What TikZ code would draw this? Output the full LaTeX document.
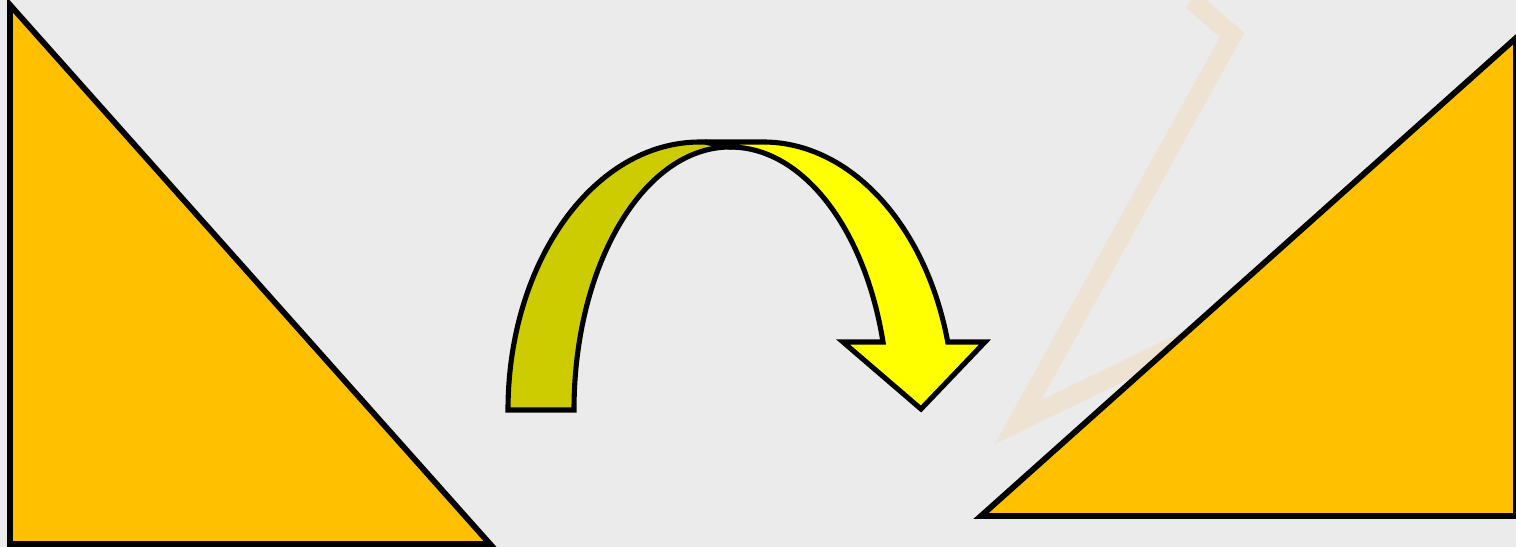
\documentclass[tikz,border=0pt]{standalone}
\usetikzlibrary{positioning}

\definecolor{slidebg}{RGB}{235,235,235}
\definecolor{triorange}{RGB}{255,192,0}
\definecolor{backband}{RGB}{204,204,0}
\definecolor{frontband}{RGB}{255,255,0}
\definecolor{markfaint}{RGB}{238,227,210}

\tikzset{
  trishape/.style={draw=black, line width=3.3pt, fill=triorange, line join=miter},
  bandback/.style={draw=black, line width=2.9pt, fill=backband, line join=miter},
  bandfront/.style={draw=black, line width=2.9pt, fill=frontband, line join=miter},
  watermark/.style={draw=markfaint, line width=11pt}
}

\begin{document}
\begin{tikzpicture}[x=0.02cm, y=0.02cm]
    \fill[slidebg] (0,0) rectangle (1516,547);
    \useasboundingbox (0,0) rectangle (1516,547);

    % faint background mark
    \draw[watermark] (1192,547) -- (1232,512) -- (1018,125) -- (1250,237);

    % left triangle
    \draw[trishape] (10,542) -- (10,3) -- (490,3) -- cycle;

    % curved arrow, back band
    \draw[bandback] (508,137) arc[start angle=180, end angle=90, x radius=192, y radius=268]
        -- (705,405) -- (730,400)
        arc[start angle=90, end angle=180, x radius=156, y radius=263] -- cycle;

    % curved arrow, front band with head
    \draw[bandfront] (705,405) -- (763,405)
        arc[start angle=90, end angle=14.7, x radius=191, y radius=268]
        -- (985,205) -- (921,138) -- (843,205) -- (883,205)
        arc[start angle=15, end angle=90, x radius=158, y radius=263] -- cycle;

    % right triangle
    \draw[trishape] (981,31) -- (1516,31) -- (1516,509) -- cycle;
\end{tikzpicture}
\end{document}
